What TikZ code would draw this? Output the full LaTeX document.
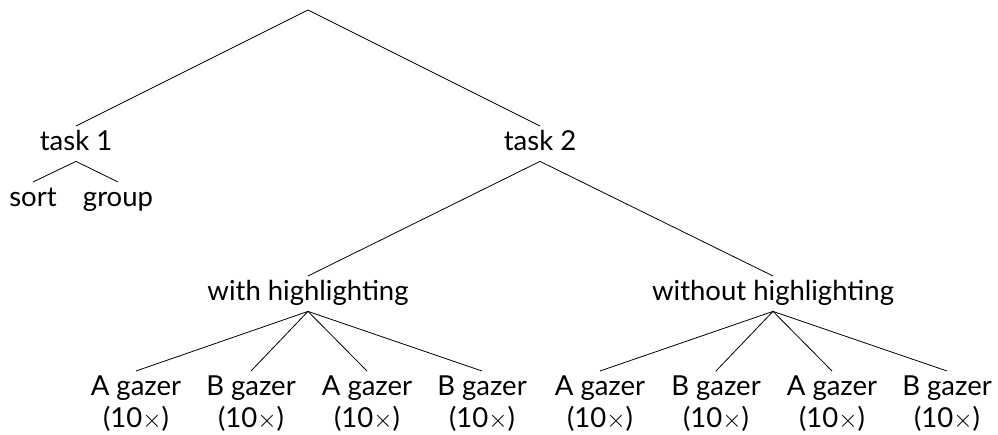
\documentclass[tikz,border=0pt]{standalone}
\usepackage{fontspec}
\setmainfont{Lato}
\begin{document}
\begin{tikzpicture}[x=1pt,y=-1pt,
  lbl/.style={anchor=north,inner xsep=0pt,inner ysep=4pt,text height=20pt,text depth=7pt,font=\fontsize{27.5}{32}\selectfont},
  leaf/.style={anchor=north,inner xsep=0pt,inner ysep=5pt,align=center,font=\fontsize{27.5}{32}\selectfont},
  edge/.style={draw=black,line width=0.8pt}]
\useasboundingbox (0,0) rectangle (998,435);
\coordinate (root) at (308,10);
\node[lbl] (t1) at (76,126) {task 1};
\node[lbl] (t2) at (540,126) {task 2};
\node[lbl] (sort) at (33,182) {sort};
\node[lbl] (group) at (118,182) {group};
\node[lbl] (with) at (308,276) {with highlighting};
\node[lbl] (without) at (773,276) {without highlighting};
\node[leaf] (l1) at (136,371) {A gazer\\(10$\times$)};
\node[leaf] (l2) at (251,371) {B gazer\\(10$\times$)};
\node[leaf] (l3) at (367,371) {A gazer\\(10$\times$)};
\node[leaf] (l4) at (482,371) {B gazer\\(10$\times$)};
\node[leaf] (l5) at (600,371) {A gazer\\(10$\times$)};
\node[leaf] (l6) at (716,371) {B gazer\\(10$\times$)};
\node[leaf] (l7) at (832,371) {A gazer\\(10$\times$)};
\node[leaf] (l8) at (947,371) {B gazer\\(10$\times$)};
\path[edge] (t1.north) -- (root) -- (t2.north);
\path[edge] (sort.north) -- (t1.south) -- (group.north);
\path[edge] (with.north) -- (t2.south) -- (without.north);
\foreach \l in {l1,l2,l3,l4} \path[edge] (with.south) -- (\l.north);
\foreach \l in {l5,l6,l7,l8} \path[edge] (without.south) -- (\l.north);
\end{tikzpicture}
\end{document}
